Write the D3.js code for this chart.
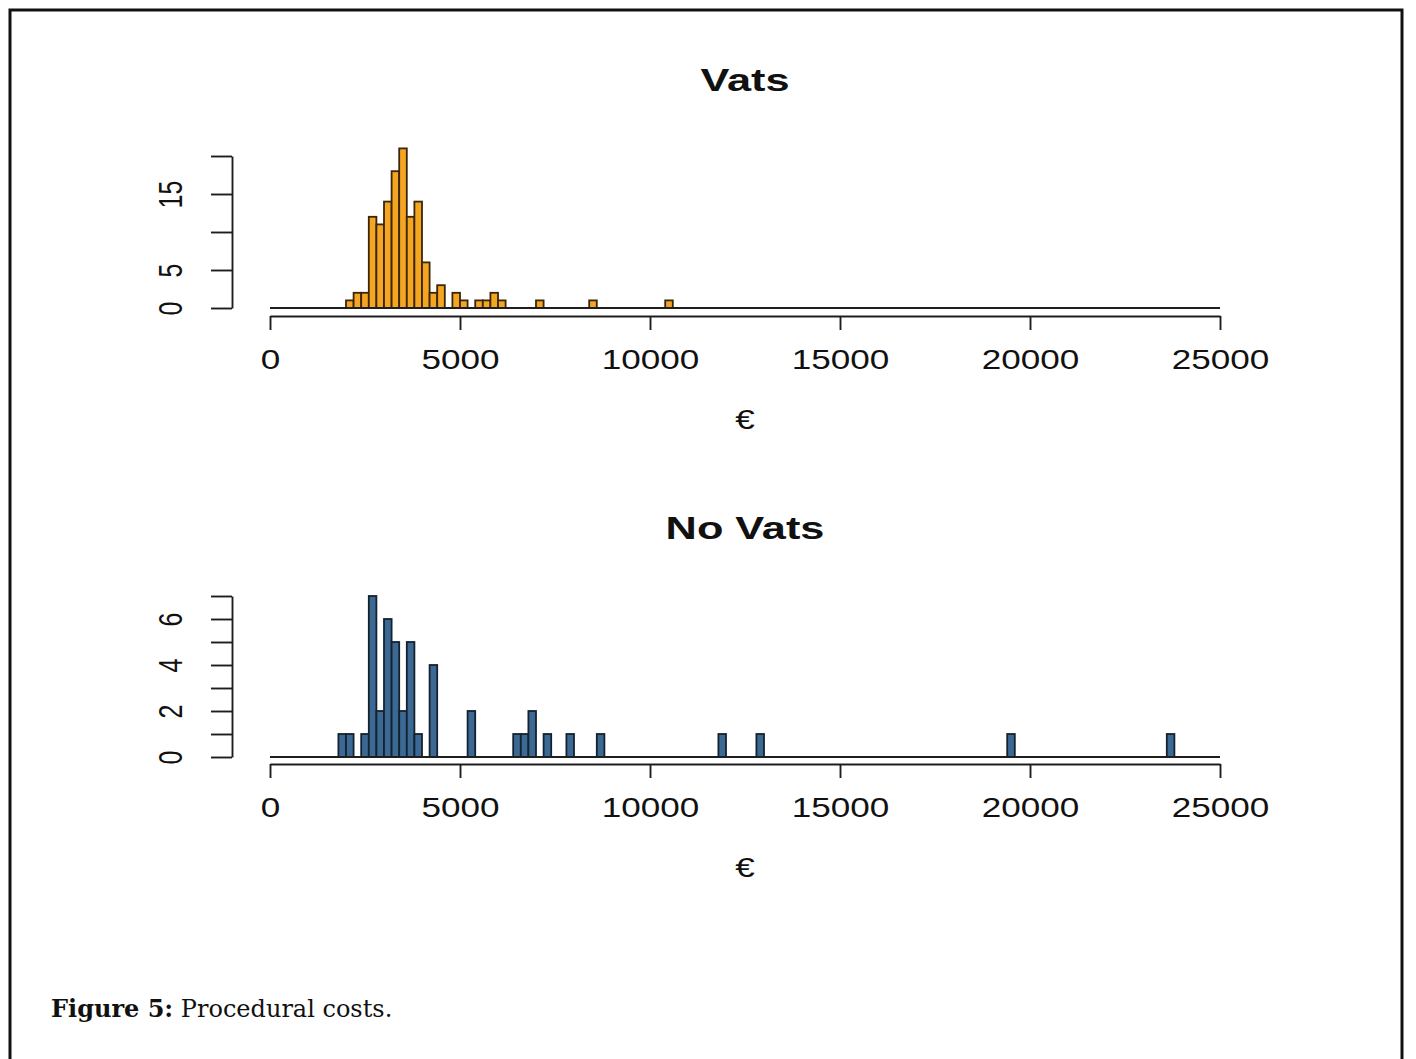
<!DOCTYPE html>
<html>
<head>
<meta charset="utf-8">
<script src="https://cdn.jsdelivr.net/npm/d3@7"></script>
<style>
  html, body { margin: 0; padding: 0; background: #fff; }
  svg { display: block; }
</style>
</head>
<body>
<svg id="fig" width="1416" height="1059"></svg>
<script>
// Histogram bins (lower edge of each 200 € bin) and patient counts
const binWidth = 200;
const vatsBinStart = [2000, 2200, 2400, 2600, 2800, 3000, 3200, 3400, 3600, 3800, 4000, 4200, 4400, 4800, 5000, 5400, 5600, 5800, 6000, 7000, 8400, 10400];
const vatsCount    = [1, 2, 2, 12, 11, 14, 18, 21, 12, 14, 6, 2, 3, 2, 1, 1, 1, 2, 1, 1, 1, 1];

const noVatsBinStart = [1800, 2000, 2400, 2600, 2800, 3000, 3200, 3400, 3600, 3800, 4200, 5200, 6400, 6600, 6800, 7200, 7800, 8600, 11800, 12800, 19400, 23600];
const noVatsCount    = [1, 1, 1, 7, 2, 6, 5, 2, 5, 1, 4, 2, 1, 1, 2, 1, 1, 1, 1, 1, 1, 1];

const xTicks = [0, 5000, 10000, 15000, 20000, 25000];
const vatsYTicks = [0, 5, 10, 15, 20];
const vatsYLabels = ["0", "5", "", "15", ""];
const noVatsYTicks = [0, 1, 2, 3, 4, 5, 6, 7];
const noVatsYLabels = ["0", "", "2", "", "4", "", "6", ""];

const titles = ["Vats", "No Vats"];
const xLabel = "€";

const svg = d3.select("#fig");
const sx = 1.3;           // horizontal stretch of the typeset labels
const ink = "#1e1e1e";

// frame around the figure
svg.append("rect")
  .attr("x", 10).attr("y", 10).attr("width", 1392).attr("height", 1080)
  .attr("fill", "none").attr("stroke", "#111").attr("stroke-width", 3);

const x = d3.scaleLinear().domain([0, 25000]).range([270, 1220]);

function panel(opts) {
  const g = svg.append("g");
  const y = d3.scaleLinear().domain(opts.yDomain).range([opts.y0, opts.yTop]);

  // title
  g.append("text")
    .attr("transform", `translate(745,${opts.titleY}) scale(1.42,1)`)
    .attr("text-anchor", "middle")
    .attr("font-family", "Liberation Sans, Arial, sans-serif")
    .attr("font-weight", "bold")
    .attr("font-size", 30.5)
    .attr("fill", "#111")
    .text(opts.title);

  // bars
  g.append("g").selectAll("rect")
    .data(opts.starts.map((s, i) => ({ s, c: opts.counts[i] })))
    .join("rect")
    .attr("x", d => x(d.s))
    .attr("width", d => x(d.s + binWidth) - x(d.s))
    .attr("y", d => y(d.c))
    .attr("height", d => y(0) - y(d.c))
    .attr("fill", opts.fill)
    .attr("stroke", opts.edge)
    .attr("stroke-width", 1.8);

  // zero line under the bars
  g.append("line")
    .attr("x1", x(0)).attr("x2", x(25000))
    .attr("y1", y(0)).attr("y2", y(0))
    .attr("stroke", ink).attr("stroke-width", 1.8);

  // x axis
  const xa = g.append("g")
    .attr("transform", `translate(0,${opts.xAxisY})`)
    .call(d3.axisBottom(x).tickValues(xTicks).tickFormat(d3.format("d")).tickSize(14).tickSizeOuter(0));
  xa.select(".domain").attr("stroke", ink).attr("stroke-width", 1.9);
  xa.selectAll(".tick line").attr("stroke", ink).attr("stroke-width", 1.9);
  xa.selectAll(".tick text")
    .attr("y", 53.5).attr("dy", null)
    .attr("transform", `scale(${sx},1)`)
    .attr("font-family", "Liberation Sans, Arial, sans-serif")
    .attr("font-size", 27).attr("fill", "#111");

  // x label
  g.append("text")
    .attr("transform", `translate(745,${opts.xAxisY + 113}) scale(${sx},1)`)
    .attr("text-anchor", "middle")
    .attr("font-family", "Liberation Sans, Arial, sans-serif")
    .attr("font-size", 27).attr("fill", "#111")
    .text(xLabel);

  // y axis
  const ya = g.append("g")
    .attr("transform", "translate(232,0)")
    .call(d3.axisLeft(y).tickValues(opts.yTicks)
      .tickFormat((d, i) => opts.yLabels[i]).tickSize(21).tickSizeOuter(0));
  ya.select(".domain").attr("stroke", ink).attr("stroke-width", 1.9);
  ya.selectAll(".tick line").attr("stroke", ink).attr("stroke-width", 1.9);
  ya.selectAll(".tick text")
    .attr("x", null).attr("dy", null)
    .attr("text-anchor", "middle")
    .attr("transform", `translate(-50,0) scale(${sx},1) rotate(-90)`)
    .attr("font-family", "Liberation Sans, Arial, sans-serif")
    .attr("font-size", 25).attr("fill", "#111");
}

panel({
  title: titles[0], titleY: 91,
  starts: vatsBinStart, counts: vatsCount,
  yDomain: [0, 20], y0: 308, yTop: 156,
  yTicks: vatsYTicks, yLabels: vatsYLabels,
  xAxisY: 316,
  fill: "#f4a522", edge: "#3a2608"
});

panel({
  title: titles[1], titleY: 539,
  starts: noVatsBinStart, counts: noVatsCount,
  yDomain: [0, 7], y0: 757, yTop: 596,
  yTicks: noVatsYTicks, yLabels: noVatsYLabels,
  xAxisY: 764,
  fill: "#3b6994", edge: "#14222e"
});

// caption
const cap = svg.append("text")
  .attr("x", 51).attr("y", 1017)
  .attr("font-family", "DejaVu Serif, Liberation Serif, serif")
  .attr("font-size", 24).attr("fill", "#111");
cap.append("tspan").attr("font-weight", "bold").text("Figure 5:");
cap.append("tspan").text(" Procedural costs.");
</script>
</body>
</html>
